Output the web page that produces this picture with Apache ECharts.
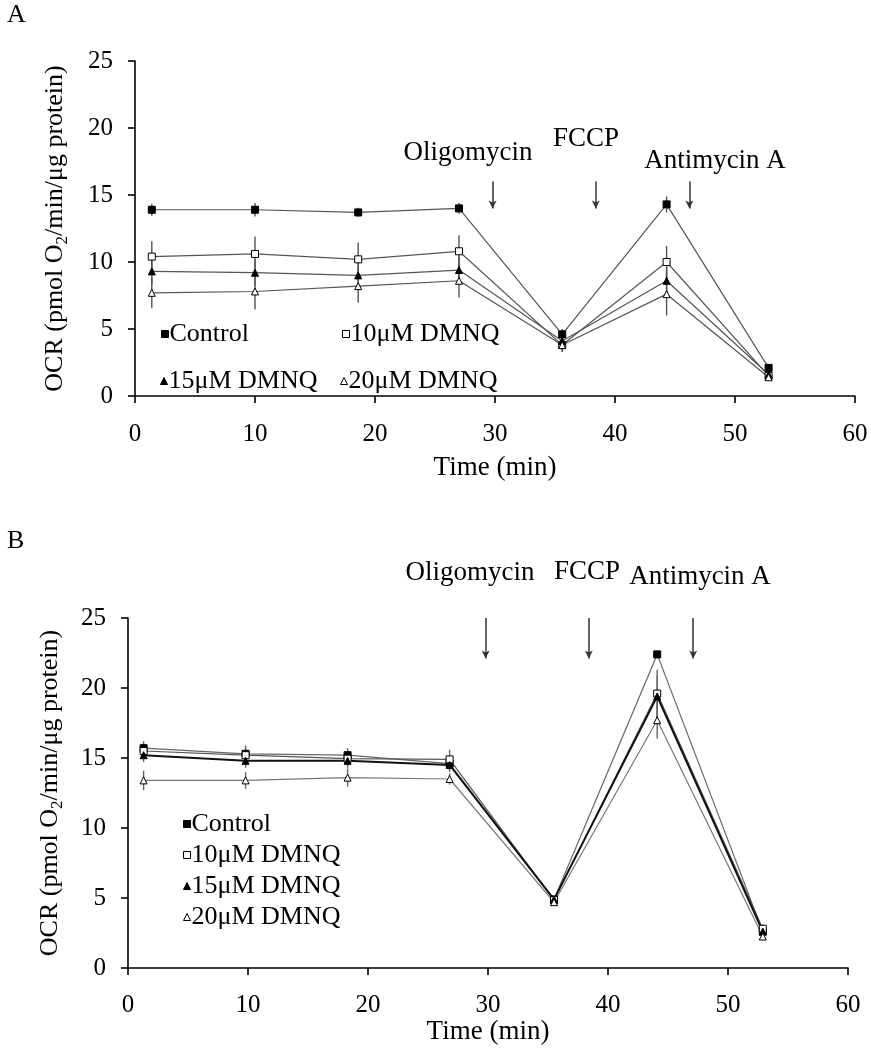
<!DOCTYPE html>
<html>
<head>
<meta charset="utf-8">
<script src="https://cdn.jsdelivr.net/npm/echarts@6/dist/echarts.min.js"></script>
<style>
html,body{margin:0;padding:0;background:#fff;}
#chart{width:871px;height:1050px;}
</style>
</head>
<body>
<div id="chart"></div>
<script>
// ---------- Data ----------
const seriesNames = ['Control', '10μM DMNQ', '15μM DMNQ', '20μM DMNQ'];
const xTicks = [0, 10, 20, 30, 40, 50, 60];
const yTicks = [0, 5, 10, 15, 20, 25];

// Panel A
const timesA = [1.4, 10, 18.6, 27, 35.6, 44.3, 52.8];
const controlA = [13.9, 13.9, 13.7, 14.0, 4.6, 14.3, 2.1];
const dmnq10A = [10.4, 10.6, 10.2, 10.8, 3.8, 10.0, 1.5];
const dmnq15A = [9.3, 9.2, 9.0, 9.4, 4.1, 8.6, 1.6];
const dmnq20A = [7.7, 7.8, 8.2, 8.6, 3.8, 7.6, 1.4];
const controlErrA = [0.45, 0.5, 0.35, 0.4, 0.4, 0.6, 0.2];
const dmnq10ErrA = [1.15, 1.3, 1.25, 1.2, 0.5, 1.2, 0.2];
const dmnq15ErrA = [1.0, 1.0, 1.0, 1.0, 0.4, 1.0, 0.2];
const dmnq20ErrA = [1.15, 1.35, 1.25, 1.25, 0.5, 1.6, 0.2];
const arrowTimesA = [29.8, 38.4, 46.2];
const arrowRangeA = [16.0, 14.0];

// Panel B
const timesB = [1.3, 9.8, 18.3, 26.8, 35.5, 44.1, 52.9];
const controlB = [15.7, 15.3, 15.2, 14.6, 4.9, 22.4, 2.6];
const dmnq10B = [15.5, 15.2, 14.95, 14.9, 4.85, 19.6, 2.8];
const dmnq15B = [15.2, 14.8, 14.8, 14.5, 4.9, 19.4, 2.6];
const dmnq20B = [13.4, 13.4, 13.6, 13.5, 4.7, 17.7, 2.25];
const controlErrB = [0.5, 0.6, 0.5, 0.4, 0.2, 0.2, 0.2];
const dmnq10ErrB = [0.5, 0.5, 0.5, 0.7, 0.2, 1.7, 0.3];
const dmnq15ErrB = [0.5, 0.5, 0.5, 0.5, 0.2, 1.5, 0.2];
const dmnq20ErrB = [0.7, 0.6, 0.65, 0.4, 0.2, 1.3, 0.2];
const arrowTimesB = [29.8, 38.4, 47.1];
const arrowRangeB = [25.0, 22.1];

const annotations = ['Oligomycin', 'FCCP', 'Antimycin A'];

// ---------- Styling ----------
const FONT = '"Liberation Serif", "Times New Roman", serif';
const symbolDefs = [
  { symbol: 'rect', fill: '#000' },
  { symbol: 'rect', fill: '#fff' },
  { symbol: 'triangle', fill: '#000' },
  { symbol: 'triangle', fill: '#fff' }
];

function pair(t, v) { return t.map((x, i) => [x, v[i]]); }
function errData(t, v, e) { return t.map((x, i) => [x, v[i] - e[i], v[i] + e[i]]); }

function errSeries(idx, t, v, e, color) {
  return {
    type: 'custom', xAxisIndex: idx, yAxisIndex: idx, silent: true, z: 1,
    data: errData(t, v, e),
    encode: { x: 0, y: [1, 2] },
    renderItem: function (params, api) {
      const p1 = api.coord([api.value(0), api.value(1)]);
      const p2 = api.coord([api.value(0), api.value(2)]);
      return { type: 'line', shape: { x1: p1[0], y1: p1[1], x2: p2[0], y2: p2[1] },
        style: { stroke: color, lineWidth: 1.4 } };
    }
  };
}

function lineSeries(idx, k, t, v, lineColor, lineWidth, extra) {
  const s = {
    name: seriesNames[k], type: 'line', xAxisIndex: idx, yAxisIndex: idx,
    data: pair(t, v), symbol: symbolDefs[k].symbol, symbolSize: 7,
    showAllSymbol: true, z: 3, clip: false,
    lineStyle: { color: lineColor, width: lineWidth },
    itemStyle: { color: symbolDefs[k].fill, borderColor: '#000', borderWidth: 1, opacity: 1 }
  };
  return Object.assign(s, extra || {});
}

function arrowMarkLine(times, range) {
  return {
    silent: true, symbol: ['none', 'arrow'], symbolSize: [6, 8],
    lineStyle: { color: '#333', width: 1.5, type: 'solid' },
    label: { show: false },
    data: times.map(x => [{ coord: [x, range[0]] }, { coord: [x, range[1]] }])
  };
}

function xAxisDef(idx, gap, margin) {
  return {
    gridIndex: idx, type: 'value', min: xTicks[0], max: xTicks[xTicks.length - 1], interval: 10,
    name: 'Time (min)', nameLocation: 'middle', nameGap: gap,
    nameTextStyle: { fontFamily: FONT, fontSize: 27, color: '#000' },
    axisLine: { onZero: false, lineStyle: { color: '#000', width: 1.6 } },
    axisTick: { inside: false, length: 7, lineStyle: { color: '#000', width: 1.6 } },
    axisLabel: { fontFamily: FONT, fontSize: 25, color: '#000', margin: margin },
    splitLine: { show: false }
  };
}
function yAxisDef(idx, gap) {
  return {
    gridIndex: idx, type: 'value', min: yTicks[0], max: yTicks[yTicks.length - 1], interval: 5,
    name: '{a|OCR (pmol O}{s|2}{a|/min/μg protein)}', nameLocation: 'middle', nameGap: gap,
    nameTextStyle: {
      fontFamily: FONT, fontSize: 26, color: '#000',
      rich: {
        a: { fontFamily: FONT, fontSize: 26, color: '#000', lineHeight: 32 },
        s: { fontFamily: FONT, fontSize: 17, color: '#000', lineHeight: 32, verticalAlign: 'bottom' }
      }
    },
    axisLine: { onZero: false, lineStyle: { color: '#000', width: 1.6 } },
    axisTick: { inside: false, length: 7, lineStyle: { color: '#000', width: 1.6 } },
    axisLabel: { fontFamily: FONT, fontSize: 25, color: '#000', margin: 22 },
    splitLine: { show: false }
  };
}

function legendItem(k) {
  return { name: seriesNames[k], icon: symbolDefs[k].symbol,
    itemStyle: { color: symbolDefs[k].fill, borderColor: '#000', borderWidth: 1 } };
}
function legendDef(items, left, top, orient) {
  return {
    data: items.map(legendItem), left: left, top: top, orient: orient || 'horizontal',
    itemWidth: 7, itemHeight: 7, itemGap: 5, selectedMode: false,
    textStyle: { fontFamily: FONT, fontSize: 26, color: '#000', padding: [0, 0, 0, -4] }
  };
}

const gray = '#555';
const option = {
  backgroundColor: '#fff',
  animation: false,
  grid: [
    { left: 135, top: 61, width: 720, height: 335 },
    { left: 128, top: 618, width: 720, height: 350 }
  ],
  xAxis: [xAxisDef(0, 58, 26), xAxisDef(1, 47, 25)],
  yAxis: [yAxisDef(0, 64), yAxisDef(1, 62)],
  legend: [
    legendDef([0], 156, 316),
    legendDef([1], 337, 316),
    legendDef([2], 155, 363),
    legendDef([3], 335, 363),
    legendDef([0, 1, 2, 3], 178, 806, 'vertical')
  ],
  graphic: [
    { type: 'text', left: 7, top: 2, style: { text: 'A', font: '26px ' + FONT, fill: '#000' } },
    { type: 'text', left: 7, top: 528, style: { text: 'B', font: '26px ' + FONT, fill: '#000' } },
    { type: 'text', x: 468, y: 153, style: { text: annotations[0], font: '27px ' + FONT, fill: '#000', textAlign: 'center', textVerticalAlign: 'middle' } },
    { type: 'text', x: 586, y: 139, style: { text: annotations[1], font: '27px ' + FONT, fill: '#000', textAlign: 'center', textVerticalAlign: 'middle' } },
    { type: 'text', x: 715, y: 161, style: { text: annotations[2], font: '27px ' + FONT, fill: '#000', textAlign: 'center', textVerticalAlign: 'middle' } },
    { type: 'text', x: 470, y: 573, style: { text: annotations[0], font: '27px ' + FONT, fill: '#000', textAlign: 'center', textVerticalAlign: 'middle' } },
    { type: 'text', x: 587, y: 572, style: { text: annotations[1], font: '27px ' + FONT, fill: '#000', textAlign: 'center', textVerticalAlign: 'middle' } },
    { type: 'text', x: 700, y: 577, style: { text: annotations[2], font: '27px ' + FONT, fill: '#000', textAlign: 'center', textVerticalAlign: 'middle' } }
  ],
  series: [
    // Panel A
    errSeries(0, timesA, controlA, controlErrA, gray),
    errSeries(0, timesA, dmnq10A, dmnq10ErrA, gray),
    errSeries(0, timesA, dmnq15A, dmnq15ErrA, gray),
    errSeries(0, timesA, dmnq20A, dmnq20ErrA, gray),
    lineSeries(0, 0, timesA, controlA, gray, 1.2, { markLine: arrowMarkLine(arrowTimesA, arrowRangeA) }),
    lineSeries(0, 1, timesA, dmnq10A, gray, 1.2),
    lineSeries(0, 2, timesA, dmnq15A, gray, 1.2),
    lineSeries(0, 3, timesA, dmnq20A, gray, 1.2),
    // Panel B
    errSeries(1, timesB, controlB, controlErrB, '#666'),
    errSeries(1, timesB, dmnq10B, dmnq10ErrB, '#666'),
    errSeries(1, timesB, dmnq15B, dmnq15ErrB, '#666'),
    errSeries(1, timesB, dmnq20B, dmnq20ErrB, '#666'),
    lineSeries(1, 0, timesB, controlB, '#666', 1.2, { markLine: arrowMarkLine(arrowTimesB, arrowRangeB) }),
    lineSeries(1, 1, timesB, dmnq10B, '#555', 1.2),
    lineSeries(1, 2, timesB, dmnq15B, '#111', 2),
    lineSeries(1, 3, timesB, dmnq20B, '#777', 1.2)
  ]
};

const chart = echarts.init(document.getElementById('chart'), null, { renderer: 'canvas' });
chart.setOption(option);
</script>
</body>
</html>
